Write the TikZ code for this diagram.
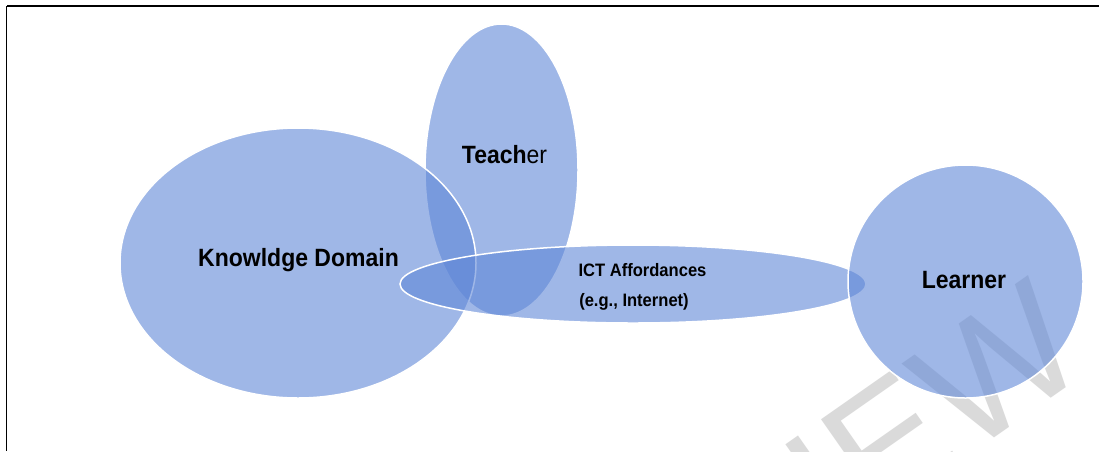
\documentclass[tikz,border=0pt]{standalone}
\usepackage{fontspec}
\setmainfont{Liberation Sans}[FakeStretch=0.92]
\newfontfamily\wmfont{Liberation Sans}
\usetikzlibrary{shapes.geometric}
\definecolor{blobblue}{RGB}{95,135,215}
\definecolor{wmgray}{RGB}{218,218,218}
\tikzset{
  blob/.style={ellipse, draw=white, line width=1.5pt, fill=blobblue,
    fill opacity=0.6, inner sep=0pt, outer sep=0pt},
  biglbl/.style={font=\bfseries\fontsize{25}{30}\selectfont, text=black,
    inner sep=0pt, anchor=base},
  smalllbl/.style={font=\bfseries\fontsize{18}{22}\selectfont, text=black,
    inner sep=0pt, anchor=base},
  wmark/.style={font=\wmfont\fontsize{165}{175}\selectfont, text=wmgray,
    inner sep=0pt, anchor=base west, rotate=35}
}
\begin{document}
\begin{tikzpicture}[x=1pt,y=-1pt]
\useasboundingbox (0,0) rectangle (1099,451);
\fill[white] (0,0) rectangle (1099,451);
% watermark (beneath the shapes)
\node[wmark] (wm) at (748,610) {VIEW};
% shapes
\node[blob, minimum width=153pt, minimum height=292pt] (teacher) at (501.5,170) {};
\node[blob, minimum width=356pt, minimum height=270pt] (kd) at (298,263) {};
\node[blob, minimum width=466pt, minimum height=78pt] (ict) at (633,284) {};
\node[blob, minimum width=235pt, minimum height=233pt] (learner) at (965.5,281.5) {};
% labels
\node[biglbl] (kdl) at (298.5,266) {Knowldge Domain};
\node[biglbl] (tl) at (504.5,163) {Teach\mdseries er};
\node[smalllbl] (ictl1) at (642.5,276.5) {ICT Affordances};
\node[smalllbl] (ictl2) at (634,306) {(e.g., Internet)};
\node[biglbl] (ll) at (964,288) {Learner};
% frame
\coordinate (ftr) at (1099,6);
\coordinate (ftl) at (6.5,6);
\coordinate (fbl) at (6.5,451);
\draw[line width=1.8pt] (ftr) -- (ftl);
\draw[line width=1.3pt] (ftl) -- (fbl);
\end{tikzpicture}
\end{document}
